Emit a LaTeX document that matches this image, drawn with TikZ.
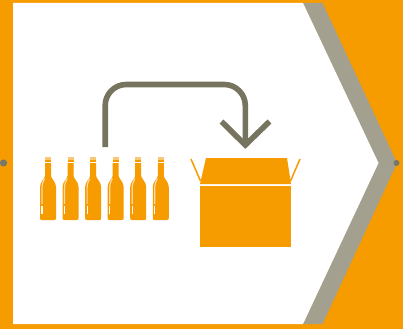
\documentclass[tikz,border=0pt]{standalone}
\usepackage{xcolor}
\definecolor{crateorange}{HTML}{F69B00}
\definecolor{bandgrey}{HTML}{A3A090}
\definecolor{arrowgrey}{HTML}{76745F}
\definecolor{dotgrey}{HTML}{77776A}
\begin{document}
\begin{tikzpicture}[
x=1pt, y=-1pt,
flap/.style={draw=crateorange, line width=1.5pt},
flow/.style={draw=arrowgrey, line width=5.6pt},
bottle/.pic={
  \fill[crateorange!55] (5,0.3) rectangle (11,2.5);
  \fill[crateorange] (5,2.5) rectangle (11,5);
  \fill[crateorange] (5,6) -- (11,6) -- (11,19) .. controls (11.5,22) and (16,25) .. (16,30)
    -- (16,61) .. controls (16,62.5) and (15.5,63) .. (14,63) -- (2,63)
    .. controls (0.5,63) and (0,62.5) .. (0,61) -- (0,30) .. controls (0,25) and (4.5,22) .. (5,19) -- cycle;
  \draw[white!65!crateorange, line width=1.2pt] (4.6,21.5) .. controls (3,25) and (2,27) .. (2,31) -- (2,47);
  \draw[white, line width=1.2pt] (2,49) -- (2,56.5);
}
]
\useasboundingbox (0,0) rectangle (403,329);
\fill[crateorange] (0,0) rectangle (403,329);
\fill[bandgrey] (303,3) -- (322.5,3) -- (397,163) -- (322.5,324) -- (303,324) -- (378,163) -- cycle;
\fill[white] (13,3) -- (303,3) -- (378.5,163) -- (303,324) -- (13,324) -- cycle;
\fill[dotgrey] (3.5,163) circle (3.6);
\fill[dotgrey] (396.5,163) circle (3);
% bottles
\foreach \bx in {0,...,5} {
  \pic at ({40+22.55*\bx},157) {bottle};
}
% box
\fill[crateorange] (200,186) rectangle (291,247);
\fill[crateorange] (206,158) -- (287,158) -- (291,184) -- (200,184) -- cycle;
\draw[flap] (191,159) -- (200.5,181);
\draw[flap] (300,159) -- (290.5,181);
% arrow
\coordinate (start) at (105.2,147);
\coordinate (corner1) at (105.2,84.5);
\coordinate (corner2) at (245.3,84.5);
\coordinate (tip) at (245.3,145);
\coordinate (barbl) at (221.5,121.5);
\coordinate (barbr) at (269.5,121.5);
\draw[flow, rounded corners=21pt] (start) -- (corner1) -- (corner2) -- (tip);
\draw[flow, line join=miter] (barbl) -- (tip) -- (barbr);
\end{tikzpicture}
\end{document}
